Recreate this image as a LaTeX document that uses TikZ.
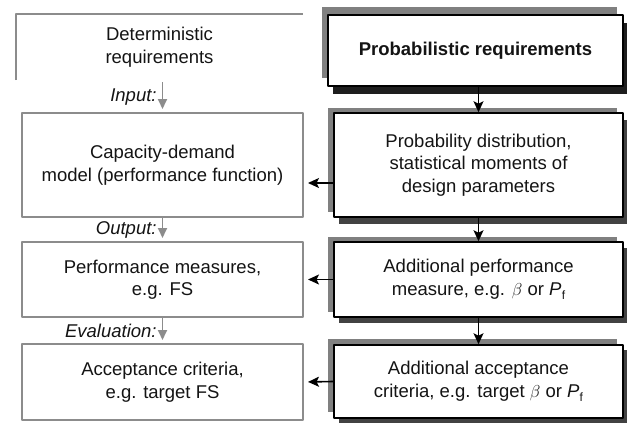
\documentclass[tikz,border=0pt]{standalone}
\usepackage{fontspec}
\setmainfont{Liberation Sans}
\usetikzlibrary{arrows.meta,shadows}
\definecolor{boxgray}{RGB}{140,140,140}
\definecolor{shadegray}{RGB}{128,128,128}
\definecolor{shadedark}{RGB}{66,66,66}
\definecolor{shadeblack}{RGB}{30,30,30}
\newcommand{\pfail}{\textit{P}\kern0.3pt\raisebox{-4pt}{\fontsize{12}{12}\selectfont f}}
\begin{document}
\begin{tikzpicture}[x=1pt,y=-1pt,font=\fontsize{18.5}{22.5}\selectfont,text=black!92,line join=round,
  leftbox/.style={draw=boxgray,line width=2pt,fill=white,align=center,inner sep=0pt,minimum width=281pt},
  rightbox/.style={draw=black,line width=1.6pt,fill=white,align=center,inner sep=0pt},
  twoshade/.style n args={3}{general shadow={fill=shadegray,shadow xshift=-6pt,shadow yshift=#1},
    general shadow={fill=#2,shadow xshift=5pt,shadow yshift=#3}},
  graylink/.style={draw=boxgray,line width=1.8pt,-{Triangle[length=10pt,width=9pt]},shorten >=3pt},
  blacklink/.style={line width=1.6pt,-{Stealth[length=11pt,width=10pt,inset=2.5pt]}},
  steplabel/.style={left,inner sep=5pt,font=\fontsize{18.5}{22.5}\selectfont\itshape}]
\useasboundingbox (0,0) rectangle (627,424);
% left column
\node[align=center,inner sep=0pt,minimum width=287pt,minimum height=66pt] (det) at (159.5,47) {Deterministic\\requirements};
\draw[boxgray,line width=2pt] (det.south west) |- (det.north east);
\node[leftbox,minimum height=104pt] (cap) at (162.5,165) {Capacity-demand\\model (performance function)};
\node[leftbox,minimum height=75pt] (perf) at (162.5,279.5) {Performance measures,\\e.g. FS};
\node[leftbox,minimum height=76pt] (acc) at (162.5,382) {Acceptance criteria,\\e.g. target FS};
% right column
\node[rightbox,twoshade={8pt}{shadeblack}{-8pt},minimum width=295pt,minimum height=71pt] (prob) at (475.5,50.5) {\bfseries Probabilistic requirements};
\node[rightbox,twoshade={5pt}{shadedark}{-7pt},minimum width=289pt,minimum height=104pt] (pd) at (478.5,165) {Probability distribution,\\statistical moments of\\design parameters};
\node[rightbox,twoshade={5pt}{shadedark}{-6pt},minimum width=289pt,minimum height=75pt] (apm) at (478.5,279.5) {Additional performance\\measure, e.g. $\beta$ or \pfail};
\node[rightbox,twoshade={6pt}{shadedark}{-5pt},minimum width=289pt,minimum height=73pt] (aac) at (478.5,381.5) {Additional acceptance\\criteria, e.g. target $\beta$ or \pfail};
% links
\draw[graylink] ([yshift=-2pt]det.south -| cap.north) -- node[steplabel]{Input:} (cap.north);
\draw[graylink] (cap.south) -- node[steplabel]{Output:} (perf.north);
\draw[graylink] (perf.south) -- node[steplabel]{Evaluation:} (acc.north);
\draw[blacklink] (prob.south -| pd.north) -- (pd.north);
\draw[blacklink] (pd.south) -- (apm.north);
\draw[blacklink] (apm.south) -- (aac.north);
\draw[blacklink,shorten >=4pt] ([yshift=-18pt]pd.west) -- ([yshift=-18pt]pd.west -| cap.east);
\draw[blacklink,shorten >=4pt] (apm.west) -- (perf.east);
\draw[blacklink,shorten >=4pt] (aac.west) -- (acc.east);
\end{tikzpicture}
\end{document}
